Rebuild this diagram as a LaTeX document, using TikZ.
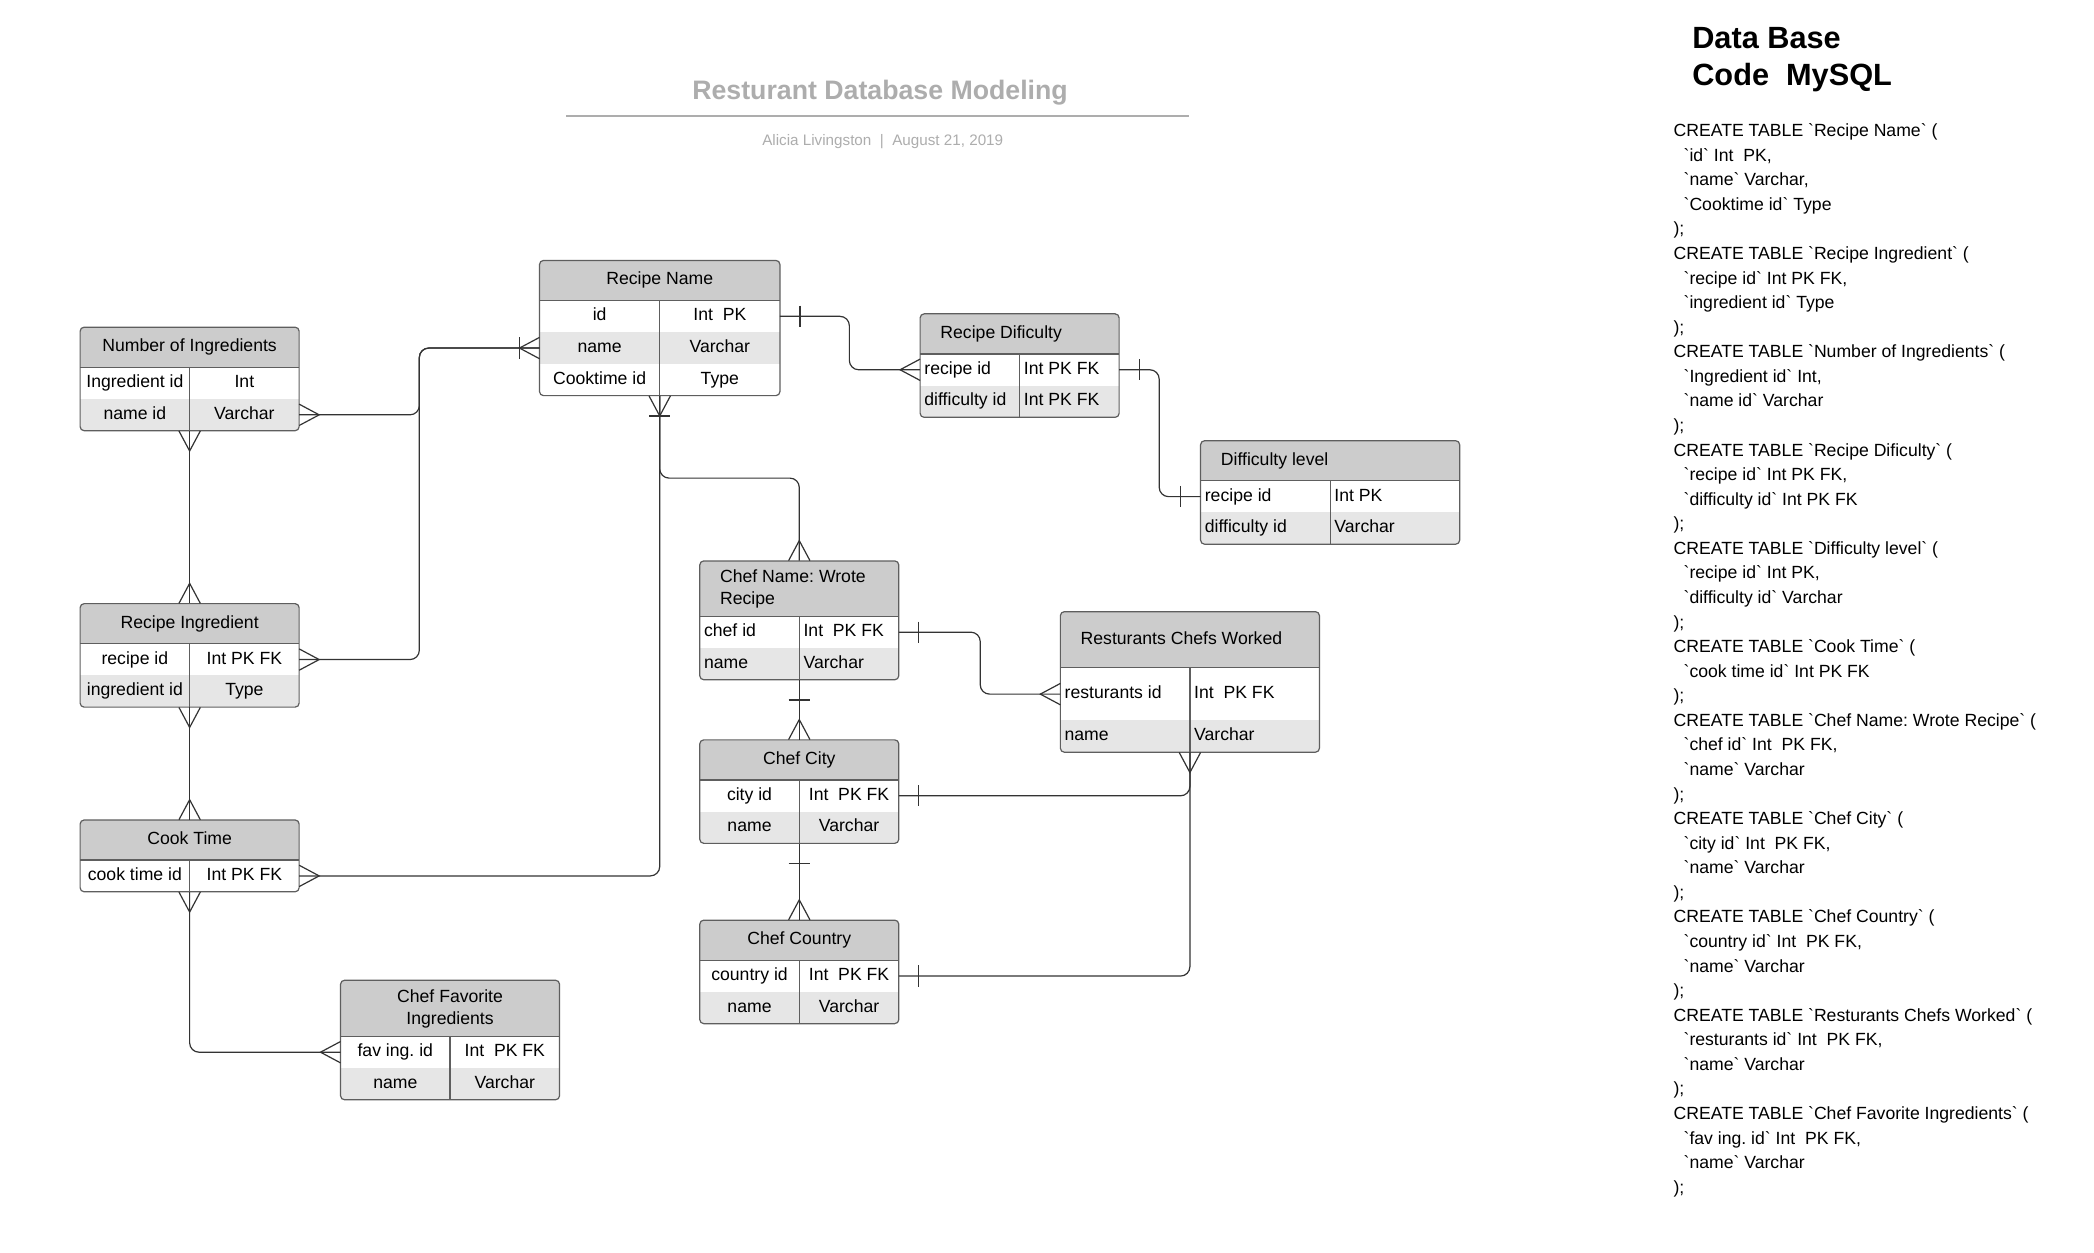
\documentclass[tikz,border=0pt]{standalone}
\usepackage{fontspec}
\setmainfont{Liberation Sans}
\usetikzlibrary{calc}
\AtBeginDocument{\frenchspacing}
\definecolor{boxline}{HTML}{5E5E5E}
\definecolor{hdrfill}{HTML}{CCCCCC}
\definecolor{rowfill}{HTML}{E6E6E6}
\definecolor{connc}{HTML}{333333}
\definecolor{titlec}{HTML}{ADADAD}
\newcommand\bq{\textasciigrave}
\newcommand\ind{\hspace*{7.5pt}}
\def\RH{23.75}
\tikzset{
  boxborder/.style={draw=boxline, line width=0.9pt},
  conn/.style={draw=connc, line width=0.9pt, rounded corners=7pt},
  crowline/.style={draw=connc, line width=0.9pt},
  celltext/.style={inner sep=3pt, font=\fontsize{13.2}{16}\selectfont, text=black, text height=9.5pt, text depth=2.8pt},
  celltexttwo/.style={inner sep=3pt, font=\fontsize{13.2}{16}\selectfont, text=black},
  codetext/.style={anchor=base west, inner sep=0pt, font=\fontsize{13.2}{16}\selectfont, text=black},
}
% #1 name #2 left #3 right #4 top #5 header height #6 header text #7 align c/l #8 rows
\newcommand\ertab[8]{%
 \pgfmathsetmacro\tL{#2}%
 \pgfmathsetmacro\tR{#3}%
 \pgfmathsetmacro\tT{#4}%
 \pgfmathsetmacro\tH{#4+#5}%
 \pgfmathsetmacro\tD{(#2+#3)/2}%
 \xdef\tB{\tH}%
 \foreach \cola/\colb/\rowh in {#8}{\pgfmathsetmacro\tmp{\tB+\rowh}\xdef\tB{\tmp}}%
 \begin{scope}
  \clip[rounded corners=3pt] (\tL,\tT) rectangle (\tR,\tB);
  \fill[white] (\tL,\tT) rectangle (\tR,\tB);
  \fill[hdrfill] (\tL,\tT) rectangle (\tR,\tH);
  \xdef\cy{\tH}%
  \foreach \cola/\colb/\rowh [count=\i] in {#8}{%
    \pgfmathsetmacro\ny{\cy+\rowh}%
    \ifodd\i\relax\else\fill[rowfill] (\tL,\cy) rectangle (\tR,\ny);\fi
    \xdef\cy{\ny}}%
 \end{scope}
 \draw[boxborder] (\tL,\tH) -- (\tR,\tH);
 \draw[boxborder] (\tD,\tH) -- (\tD,\tB);
 \draw[boxborder, rounded corners=3pt] (\tL,\tT) rectangle (\tR,\tB);
 \pgfmathsetmacro\tW{#3-#2}%
 \pgfmathsetmacro\tHt{\tB-#4}%
 \node[inner sep=0pt, minimum width=\tW pt, minimum height=\tHt pt] (#1) at ({(#2+#3)/2},{(#4+\tB)/2}) {};
 \if#7c
   \node[celltext] (#1-h) at ({(#2+#3)/2},{(#4+\tH)/2}) {#6};
 \else
   \node[celltext, anchor=west] (#1-h) at ({#2+12},{(#4+\tH)/2}) {#6};
 \fi
 \xdef\cy{\tH}%
 \foreach \cola/\colb/\rowh [count=\i] in {#8}{%
   \pgfmathsetmacro\my{\cy+\rowh/2}%
   \pgfmathsetmacro\ny{\cy+\rowh}%
   \coordinate (#1-r\i-w) at (\tL,\my);
   \coordinate (#1-r\i-e) at (\tR,\my);
   \if#7c
     \node[celltext] (#1-a\i) at ({(\tL+\tD)/2},\my) {\cola};
     \node[celltext] (#1-b\i) at ({(\tD+\tR)/2},\my) {\colb};
   \else
     \node[celltext, anchor=west] (#1-a\i) at (\tL,\my) {\cola};
     \node[celltext, anchor=west] (#1-b\i) at (\tD,\my) {\colb};
   \fi
   \xdef\cy{\ny}}%
}
\newcommand\crowR[1]{\draw[crowline] ($(#1)+(0,-8)$) -- ($(#1)+(15,0)$) -- ($(#1)+(0,8)$);}
\newcommand\crowL[1]{\draw[crowline] ($(#1)+(0,-8)$) -- ($(#1)+(-15,0)$) -- ($(#1)+(0,8)$);}
\newcommand\crowD[1]{\draw[crowline] ($(#1)+(-8,0)$) -- ($(#1)+(0,15)$) -- ($(#1)+(8,0)$);}
\newcommand\crowU[1]{\draw[crowline] ($(#1)+(-8,0)$) -- ($(#1)+(0,-15)$) -- ($(#1)+(8,0)$);}
\newcommand\tickR[1]{\draw[crowline] ($(#1)+(15,-8)$) -- ($(#1)+(15,8)$);}
\newcommand\tickL[1]{\draw[crowline] ($(#1)+(-15,-8)$) -- ($(#1)+(-15,8)$);}
\newcommand\tickD[1]{\draw[crowline] ($(#1)+(-8,15)$) -- ($(#1)+(8,15)$);}
\newcommand\tickU[1]{\draw[crowline] ($(#1)+(-8,-15)$) -- ($(#1)+(8,-15)$);}
\begin{document}
\begin{tikzpicture}[x=1pt,y=-1pt]
\useasboundingbox (0,0) rectangle (1568,938);
\fill[white] (0,0) rectangle (1568,938);

% title
\node[font=\bfseries\fontsize{20}{22}\selectfont, text=titlec] (title) at (659,69) {Resturant Database Modeling};
\coordinate (ruleL) at (424,87);
\coordinate (ruleR) at (890,87);
\draw[draw=titlec, line width=1.3pt] (ruleL) -- (ruleR);
\node[font=\fontsize{11.4}{13}\selectfont, text=titlec] (sub) at (661,106) {Alicia Livingston\ \ |\ \ August 21, 2019};

% tables
\ertab{rn}{404}{584}{195}{30}{Recipe Name}{c}{id/Int\ \ PK/\RH, name/Varchar/\RH, Cooktime id/Type/\RH}
\ertab{rd}{689}{838}{235}{30}{Recipe Dificulty}{l}{recipe id/Int PK FK/\RH, difficulty id/Int PK FK/\RH}
\ertab{dl}{899}{1093}{330}{30}{Difficulty level}{l}{recipe id/Int PK/\RH, difficulty id/Varchar/\RH}
\ertab{ni}{60}{224}{245}{30}{Number of Ingredients}{c}{Ingredient id/Int/\RH, name id/Varchar/\RH}
\ertab{ri}{60}{224}{452}{30}{Recipe Ingredient}{c}{recipe id/Int PK FK/\RH, ingredient id/Type/\RH}
\ertab{ct}{60}{224}{614}{30}{Cook Time}{c}{cook time id/Int PK FK/\RH}
\ertab{cf}{255}{419}{734}{42}{}{c}{fav ing. id/Int\ \ PK FK/\RH, name/Varchar/\RH}
\ertab{cn}{524}{673}{420}{41.5}{}{l}{chef id/Int\ \ PK FK/\RH, name/Varchar/\RH}
\ertab{cc}{524}{673}{554}{30}{Chef City}{c}{city id/Int\ \ PK FK/\RH, name/Varchar/\RH}
\ertab{co}{524}{673}{689}{30}{Chef Country}{c}{country id/Int\ \ PK FK/\RH, name/Varchar/\RH}
\ertab{rc}{794}{988}{458}{42}{Resturants Chefs Worked}{l}{resturants id/Int\ \ PK FK/39.5, name/Varchar/\RH}
\node[celltexttwo, align=left, anchor=west] (cnh) at (536,441) {Chef Name: Wrote\\Recipe};
\node[celltexttwo, align=center] (cfh) at (337,755.5) {Chef Favorite\\Ingredients};

% helper coordinates for bends
\coordinate (xa) at (636,0);
\coordinate (xb) at (868,0);
\coordinate (xc) at (314,0);
\coordinate (xj) at (734,0);
\coordinate (yh) at (0,358);

% connectors
\draw[conn] (rn-r1-e) -- (rn-r1-e -| xa) |- (rd-r1-w);
\draw[conn] (rd-r1-e) -- (rd-r1-e -| xb) |- (dl-r1-w);
\draw[conn] (ni-r2-e) -- (ni-r2-e -| xc) |- (rn-r2-w);
\draw[conn] (ri-r1-e) -- (ri-r1-e -| xc) |- (rn-r2-w);
\draw[conn] (ni.south) -- (ri.north);
\draw[conn] (ri.south) -- (ct.north);
\draw[conn] (ct-r1-e) -| (rn.south);
\draw[conn] (rn.south) -- (rn.south |- yh) -| (cn.north);
\draw[conn] (ct.south) |- (cf-r1-w);
\draw[conn] (cn-r1-e) -- (cn-r1-e -| xj) |- (rc-r1-w);
\draw[conn] (cn.south) -- (cc.north);
\draw[conn] (cc.south) -- (co.north);
\draw[conn] (cc-r1-e) -| (rc.south);
\draw[conn] (co-r1-e) -| (rc.south);

% end marks
\tickR{rn-r1-e} \crowL{rd-r1-w}
\tickR{rd-r1-e} \tickL{dl-r1-w}
\crowR{ni-r2-e} \crowL{rn-r2-w} \tickL{rn-r2-w}
\crowR{ri-r1-e}
\crowD{ni.south} \crowU{ri.north}
\crowD{ri.south} \crowU{ct.north}
\crowR{ct-r1-e} \crowD{rn.south} \tickD{rn.south}
\crowU{cn.north}
\crowD{ct.south} \crowL{cf-r1-w}
\tickR{cn-r1-e} \crowL{rc-r1-w}
\tickD{cn.south} \crowU{cc.north}
\tickD{cc.south} \crowU{co.north}
\tickR{cc-r1-e} \crowD{rc.south}
\tickR{co-r1-e}

% code panel
\node[anchor=base west, inner sep=0pt, font=\bfseries\fontsize{23}{28}\selectfont] (h1) at (1267,36) {Data Base};
\node[anchor=base west, inner sep=0pt, font=\bfseries\fontsize{23}{28}\selectfont] (h2) at (1267,64) {Code\ \ MySQL};
\foreach \myline [count=\k] in {
 {CREATE TABLE \bq Recipe Name\bq\ (},
 {\ind\bq id\bq\ Int\ \ PK,},
 {\ind\bq name\bq\ Varchar,},
 {\ind\bq Cooktime id\bq\ Type},
 {);},
 {CREATE TABLE \bq Recipe Ingredient\bq\ (},
 {\ind\bq recipe id\bq\ Int PK FK,},
 {\ind\bq ingredient id\bq\ Type},
 {);},
 {CREATE TABLE \bq Number of Ingredients\bq\ (},
 {\ind\bq Ingredient id\bq\ Int,},
 {\ind\bq name id\bq\ Varchar},
 {);},
 {CREATE TABLE \bq Recipe Dificulty\bq\ (},
 {\ind\bq recipe id\bq\ Int PK FK,},
 {\ind\bq difficulty id\bq\ Int PK FK},
 {);},
 {CREATE TABLE \bq Difficulty level\bq\ (},
 {\ind\bq recipe id\bq\ Int PK,},
 {\ind\bq difficulty id\bq\ Varchar},
 {);},
 {CREATE TABLE \bq Cook Time\bq\ (},
 {\ind\bq cook time id\bq\ Int PK FK},
 {);},
 {CREATE TABLE \bq Chef Name: Wrote Recipe\bq\ (},
 {\ind\bq chef id\bq\ Int\ \ PK FK,},
 {\ind\bq name\bq\ Varchar},
 {);},
 {CREATE TABLE \bq Chef City\bq\ (},
 {\ind\bq city id\bq\ Int\ \ PK FK,},
 {\ind\bq name\bq\ Varchar},
 {);},
 {CREATE TABLE \bq Chef Country\bq\ (},
 {\ind\bq country id\bq\ Int\ \ PK FK,},
 {\ind\bq name\bq\ Varchar},
 {);},
 {CREATE TABLE \bq Resturants Chefs Worked\bq\ (},
 {\ind\bq resturants id\bq\ Int\ \ PK FK,},
 {\ind\bq name\bq\ Varchar},
 {);},
 {CREATE TABLE \bq Chef Favorite Ingredients\bq\ (},
 {\ind\bq fav ing. id\bq\ Int\ \ PK FK,},
 {\ind\bq name\bq\ Varchar},
 {);}}{
  \pgfmathsetmacro\yy{102.3+(\k-1)*18.4}
  \node[codetext] (code\k) at (1253,\yy) {\myline};
}
\end{tikzpicture}
\end{document}
